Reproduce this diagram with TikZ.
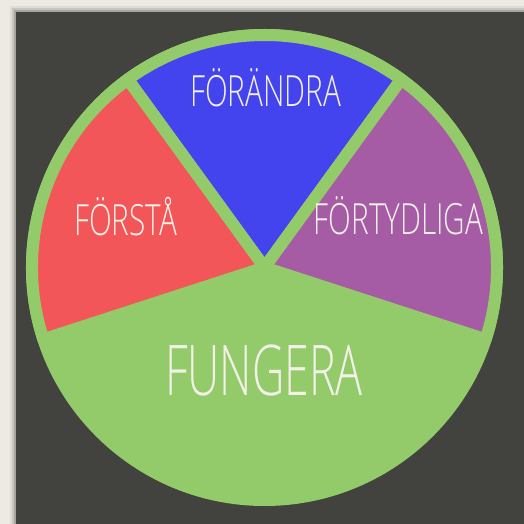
\documentclass[tikz,border=0pt]{standalone}
\usepackage{fontspec}
\setmainfont{Open Sans Light}[FakeStretch=0.69]
\newfontfamily\bigfont{Open Sans Light}[FakeStretch=0.64]
\usepackage{tikz}
\usetikzlibrary{positioning}

\definecolor{paper}{HTML}{ECEAE2}
\definecolor{board}{HTML}{42423E}
\definecolor{wheelgreen}{HTML}{93CB6A}
\definecolor{changeblue}{HTML}{4444EE}
\definecolor{understandred}{HTML}{F25658}
\definecolor{clarifypurple}{HTML}{A55CA4}
\definecolor{chalk}{HTML}{F2F0E8}

\begin{document}
\begin{tikzpicture}[x=1pt,y=1pt]
\tikzstyle{sector}=[draw=wheelgreen,line width=12pt,line join=round]
\tikzstyle{word}=[text=chalk,inner sep=0pt,anchor=base]

\useasboundingbox (-264.5,-256.5) rectangle (259.5,267.5);
\fill [paper] (-264.5,-256.5) rectangle (259.5,267.5);

% board with a soft shadow
\fill [black,opacity=0.06] (-254.5,-256.5) rectangle (259.5,261.5);
\fill [black,opacity=0.10] (-252.5,-256.5) rectangle (259.5,259.5);
\fill [black,opacity=0.16] (-250.5,-256.5) rectangle (259.5,257.5);
\fill [board] (-248.5,-256.5) rectangle (259.5,255.5);

% wheel
\fill [wheelgreen] (0,0) circle (238.5);
\filldraw [sector,fill=changeblue] (0,0) -- (54:232.5) arc (54:126:232.5) -- cycle;
\filldraw [sector,fill=understandred] (0,0) -- (126:232.5) arc (126:198:232.5) -- cycle;
\filldraw [sector,fill=clarifypurple] (0,0) -- (-18:232.5) arc (-18:54:232.5) -- cycle;

\node (change) [word,font=\fontsize{43}{43}\selectfont] at (1,160.8) {FÖRÄNDRA};
\node (understand) [word,font=\fontsize{43}{43}\selectfont] at (-139,31.5) {FÖRSTÅ};
\node (clarify) [word,font=\fontsize{43}{43}\selectfont] at (134,32.5) {FÖRTYDLIGA};
\node (work) [word,font=\bigfont\fontsize{70}{70}\selectfont] at (-0.5,-127.5) {FUNGERA};
\end{tikzpicture}
\end{document}
